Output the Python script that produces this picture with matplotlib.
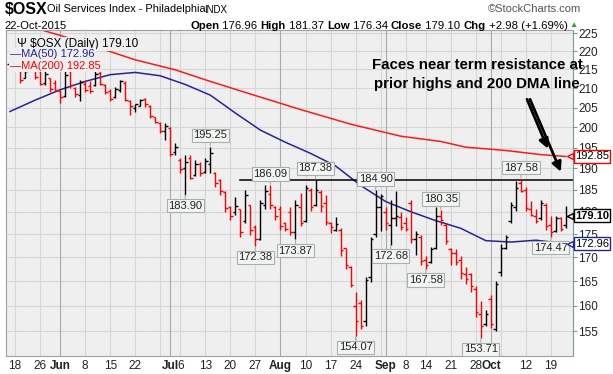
import numpy as np
import pandas as pd
import matplotlib
matplotlib.use('Agg')
import matplotlib.pyplot as plt
from matplotlib.ticker import FixedLocator, NullLocator

plt.rcParams['font.family'] = ['Liberation Sans', 'DejaVu Sans']

# trading days of the chart (weekdays minus market holidays)
holidays = ['2015-05-25', '2015-07-03', '2015-09-07']
dates = pd.bdate_range('2015-05-15', '2015-10-22')
dates = dates[~dates.isin(pd.to_datetime(holidays))]

opens = [216.5, 217.5, 216.0, 212.8, 216.0, 216.5, 214.5, 211.5, 212.6, 211.5,
         209.4, 208.0, 214.5, 210.0, 208.2, 211.2, 210.5, 210.8, 214.0, 210.8,
         209.4, 207.6, 209.5, 211.5, 206.8, 204.8, 205.5, 207.2, 205.5, 202.5,
         201.2, 199.0, 199.8, 194.0, 192.0, 190.0, 192.5, 188.5, 191.0, 189.2,
         191.0, 189.0, 187.2, 184.5, 181.0, 180.0, 180.5, 178.0, 181.5, 176.5,
         174.0, 181.5, 184.0, 181.0, 180.5, 177.5, 180.0, 175.5, 181.0, 178.0,
         185.0, 181.5, 184.5, 182.0, 177.5, 176.0, 176.0, 172.0, 168.0, 160.0,
         160.5, 157.0, 166.0, 175.0, 181.0, 180.0, 177.0, 178.5, 178.8, 177.5,
         182.0, 174.0, 174.5, 169.5, 169.0, 172.0, 179.0, 177.0, 171.8, 171.0,
         169.5, 166.5, 166.5, 163.5, 158.5, 156.5, 161.5, 155.5, 167.0, 172.0,
         178.0, 181.0, 186.5, 185.0, 180.5, 179.0, 178.5, 181.5, 177.0, 175.8,
         178.5, 176.96]
highs = [217.3, 218.4, 216.2, 215.2, 217.2, 217.0, 216.5, 214.9, 212.8, 212.3,
         209.6, 214.9, 214.9, 210.4, 212.3, 212.3, 211.8, 214.5, 214.5, 211.0,
         209.8, 210.4, 212.3, 211.8, 207.0, 206.0, 207.2, 207.5, 205.7, 202.7,
         201.4, 201.1, 200.1, 196.2, 192.6, 193.3, 193.3, 192.1, 191.6, 192.5,
         195.25, 189.2, 187.4, 184.6, 181.3, 183.4, 180.6, 185.0, 181.6, 177.1,
         182.7, 186.0, 186.09, 181.3, 181.3, 177.8, 181.0, 182.7, 184.3, 186.2,
         185.5, 187.38, 185.0, 183.9, 177.7, 178.7, 176.4, 172.1, 168.1, 162.9,
         161.3, 165.8, 174.5, 184.9, 184.0, 181.0, 182.7, 184.6, 180.0, 178.8,
         182.7, 175.6, 174.9, 170.3, 172.3, 181.1, 180.35, 177.5, 172.1, 171.7,
         170.3, 168.0, 166.8, 164.0, 160.9, 159.1, 162.3, 165.0, 172.8, 174.9,
         182.2, 187.0, 187.58, 185.7, 182.4, 180.5, 182.7, 182.0, 179.0, 179.0,
         178.8, 181.37]
lows = [216.0, 216.6, 211.5, 212.6, 215.8, 212.4, 210.8, 210.9, 209.0, 209.2,
        206.2, 207.8, 210.2, 207.8, 206.6, 209.0, 208.8, 210.6, 210.8, 208.6,
        206.7, 207.4, 209.0, 206.7, 203.2, 203.8, 205.3, 205.2, 202.4, 201.2,
        198.7, 196.9, 193.0, 193.3, 189.0, 183.9, 187.4, 188.1, 188.3, 188.8,
        189.0, 185.7, 183.9, 180.0, 178.2, 179.3, 174.3, 177.5, 174.9, 172.38,
        173.8, 180.5, 180.5, 178.2, 176.0, 175.6, 174.9, 173.87, 176.7, 177.7,
        180.2, 181.2, 180.0, 177.1, 175.3, 175.6, 170.3, 167.5, 163.8, 154.07,
        155.4, 156.0, 164.8, 174.3, 175.6, 176.0, 172.68, 176.7, 176.0, 175.6,
        173.2, 170.6, 168.5, 167.58, 168.8, 171.7, 177.1, 172.8, 168.3, 168.5,
        165.4, 164.4, 162.8, 157.8, 153.71, 156.0, 155.7, 155.0, 166.2, 171.7,
        177.5, 180.2, 184.5, 180.2, 179.0, 177.5, 178.2, 176.0, 174.47, 175.5,
        175.8, 176.34]
closes = [217.0, 217.6, 212.2, 214.6, 216.6, 213.0, 211.2, 213.8, 209.8, 209.5,
          207.6, 213.5, 210.8, 208.4, 211.6, 209.6, 209.2, 213.8, 211.2, 209.0,
          207.2, 209.8, 211.8, 207.0, 205.5, 205.8, 207.0, 205.8, 202.8, 201.4,
          199.2, 200.3, 193.5, 195.2, 189.8, 191.5, 187.8, 191.0, 189.0, 191.8,
          193.8, 186.5, 184.8, 180.8, 179.0, 181.2, 175.5, 183.8, 176.0, 174.0,
          182.0, 184.8, 181.5, 179.0, 176.8, 176.2, 175.5, 181.5, 177.5, 185.5,
          181.0, 185.0, 181.2, 177.8, 176.6, 177.2, 171.5, 168.3, 164.3, 157.0,
          156.0, 165.2, 174.0, 181.0, 183.5, 177.5, 178.5, 179.0, 176.5, 176.2,
          174.0, 175.0, 169.2, 168.5, 171.8, 179.0, 178.2, 173.5, 171.0, 169.0,
          166.8, 165.5, 164.0, 158.8, 156.0, 158.5, 156.5, 164.5, 172.0, 174.5,
          181.5, 185.5, 184.8, 180.8, 179.3, 178.0, 182.0, 176.8, 175.5, 178.5,
          176.12, 179.10]

ma50_dates = ['2015-05-15', '2015-05-22', '2015-06-01', '2015-06-08', '2015-06-15',
              '2015-06-22', '2015-06-29', '2015-07-07', '2015-07-14', '2015-07-21',
              '2015-07-28', '2015-08-04', '2015-08-11', '2015-08-18', '2015-08-25',
              '2015-09-01', '2015-09-09', '2015-09-16', '2015-09-23', '2015-09-30',
              '2015-10-07', '2015-10-14', '2015-10-22']
ma50_vals = [204.0, 206.9, 209.6, 211.8, 213.6, 214.2, 213.3, 211.0, 208.2, 203.6,
             199.3, 196.3, 193.6, 190.6, 186.0, 182.3, 180.0, 178.0, 176.3, 173.6,
             173.3, 173.7, 172.96]
ma200_dates = ['2015-05-15', '2015-05-26', '2015-06-04', '2015-06-12', '2015-06-22',
               '2015-07-02', '2015-07-14', '2015-07-24', '2015-08-07', '2015-08-21',
               '2015-09-04', '2015-09-17', '2015-09-24', '2015-10-06', '2015-10-15',
               '2015-10-22']
ma200_vals = [228.5, 226.0, 223.1, 220.3, 217.6, 214.9, 211.8, 208.5, 204.5, 200.8,
              197.8, 196.5, 195.1, 194.3, 193.3, 192.85]

tick_dates = ['2015-05-18', '2015-05-26', '2015-06-01', '2015-06-08', '2015-06-15',
              '2015-06-22', '2015-07-01', '2015-07-06', '2015-07-13', '2015-07-20',
              '2015-07-27', '2015-08-03', '2015-08-10', '2015-08-17', '2015-08-24',
              '2015-09-01', '2015-09-08', '2015-09-14', '2015-09-21', '2015-09-28',
              '2015-10-01', '2015-10-12', '2015-10-19']
tick_labels = ['18', '26', 'Jun', '8', '15', '22', 'Jul', '6', '13', '20', '27', 'Aug',
               '10', '17', '24', 'Sep', '8', '14', '21', '28', 'Oct', '12', '19']
extra_grid_dates = ['2015-06-29', '2015-08-31', '2015-10-05']

marks = [('2015-07-07', 183.90, 'low'), ('2015-07-14', 195.25, 'high'),
         ('2015-07-27', 172.38, 'low'), ('2015-07-30', 186.09, 'high'),
         ('2015-08-06', 173.87, 'low'), ('2015-08-12', 187.38, 'high'),
         ('2015-08-24', 154.07, 'low'), ('2015-08-28', 184.90, 'high'),
         ('2015-09-02', 172.68, 'low'), ('2015-09-14', 167.58, 'low'),
         ('2015-09-17', 180.35, 'high'), ('2015-09-29', 153.71, 'low'),
         ('2015-10-09', 187.58, 'high'), ('2015-10-19', 174.47, 'low')]

resistance = 187.3
resistance_from = '2015-07-22'
yticks = list(range(155, 226, 5))


def pos(d):
    return dates.get_loc(pd.Timestamp(d))


x = np.arange(len(dates))
cols = ['black'] + ['black' if closes[i] >= closes[i - 1] else 'red' for i in range(1, len(closes))]

fig = plt.figure(figsize=(6.13, 3.74), dpi=100)
ax = fig.add_axes([0.0106, 0.048, 0.9241, 0.8722])
ax.set_facecolor('#efefef')
ax.set_yscale('log')
ax.set_xlim(-0.7, 112.4)
ax.set_ylim(150.3, 225.9)

# grid
for p in yticks:
    ax.axhline(p, color='#d6d6d6', lw=0.8, zorder=0)
month_starts = ['2015-06-01', '2015-07-01', '2015-08-03', '2015-09-01', '2015-10-01']
for d in tick_dates + extra_grid_dates:
    ax.axvline(pos(d), color='#aaaaaa' if d in month_starts else '#d6d6d6', lw=0.8, zorder=0)

# OHLC bars
ax.vlines(x, lows, highs, colors=cols, lw=1.0, zorder=3)
ax.hlines(opens, x - 0.5, x, colors=cols, lw=1.0, zorder=3)
ax.hlines(closes, x, x + 0.5, colors=cols, lw=1.0, zorder=3)

# moving averages
ax.plot([pos(d) for d in ma50_dates], ma50_vals, color='#24249a', lw=1.1, zorder=2)
ax.plot([pos(d) for d in ma200_dates], ma200_vals, color='#ff1a1a', lw=1.1, zorder=2)

# resistance line
ax.plot([pos(resistance_from), 112.4], [resistance, resistance], color='black', lw=1.1, zorder=2)

# high / low labels
for d, v, kind in marks:
    off = 8 if kind == 'high' else -8
    ax.annotate(f'{v:.2f}', xy=(pos(d), v), xytext=(0, off), textcoords='offset points',
                ha='center', va='center', fontsize=8, color='#222222', zorder=6,
                bbox=dict(boxstyle='square,pad=0.15', fc='#f3f5f3', ec='#a3b3ab', lw=0.8),
                arrowprops=dict(arrowstyle='-', color='#a3b3ab', lw=0.8, shrinkA=0, shrinkB=0.5))

# axes styling
ax.yaxis.tick_right()
ax.yaxis.set_major_locator(FixedLocator(yticks))
ax.yaxis.set_minor_locator(NullLocator())
ax.set_yticklabels([str(t) for t in yticks])
ax.tick_params(axis='y', length=3, width=0.8, color='#7a9a9a', pad=1, labelsize=8.5, labelcolor='#222222')
ax.set_xticks([pos(d) for d in tick_dates])
ax.set_xticklabels(tick_labels)
ax.tick_params(axis='x', length=0, pad=3, labelsize=8.5, labelcolor='#222222')
for lab in ax.get_xticklabels():
    if lab.get_text().isalpha():
        lab.set_fontweight('bold')
for s in ['left', 'top', 'bottom']:
    ax.spines[s].set_color('#a0a0a0')
    ax.spines[s].set_linewidth(0.8)
ax.spines['right'].set_color('#7a9a9a')
ax.spines['right'].set_linestyle((0, (1, 1)))

# value tags on the right axis
tags = [(ma200_vals[-1], '#ff0000', 'normal'), (closes[-1], 'black', 'bold'), (ma50_vals[-1], '#24249a', 'normal')]
for v, c, w in tags:
    ax.annotate(f'{v:.2f}', xy=(1.0, v), xycoords=('axes fraction', 'data'), xytext=(1.5, 0),
                textcoords='offset points', ha='left', va='center', fontsize=8, fontweight=w,
                color='black', annotation_clip=False, zorder=7,
                bbox=dict(boxstyle='square,pad=0.12', fc='white', ec=c, lw=1.0))
    ax.plot([0.9955], [v], marker='<', ms=5, mfc='white', mec=c, mew=1.0,
            transform=ax.get_yaxis_transform(), clip_on=False, zorder=8)

# legend
ax.text(0.018, 0.975, '\u03a8 $OSX (Daily) 179.10', transform=ax.transAxes, fontsize=8.5,
        va='top', ha='left', color='black', zorder=7,
        bbox=dict(boxstyle='square,pad=0.1', fc='#efefef', ec='none'))
ax.text(0.006, 0.94, '\u2014MA(50) 172.96', transform=ax.transAxes, fontsize=8,
        va='top', ha='left', color='#24249a', zorder=7,
        bbox=dict(boxstyle='square,pad=0.1', fc='#efefef', ec='none'))
ax.text(0.006, 0.905, '\u2014MA(200) 192.85', transform=ax.transAxes, fontsize=8,
        va='top', ha='left', color='#ff0000', zorder=7,
        bbox=dict(boxstyle='square,pad=0.1', fc='#efefef', ec='none'))

# comment and arrows
ax.text(0.831, 0.863, 'Faces near term resistance at\nprior highs and 200 DMA line',
        transform=ax.transAxes, ha='center', va='center', fontsize=10.8, fontweight='bold',
        linespacing=1.45, zorder=7)
ax.annotate('', xy=(107.6, 194.1), xytext=(103.0, 207.8),
            arrowprops=dict(arrowstyle='-|>', color='black', lw=2, mutation_scale=14))
ax.annotate('', xy=(110.2, 188.6), xytext=(103.6, 207.8),
            arrowprops=dict(arrowstyle='-|>', color='black', lw=2, mutation_scale=14))

# header
fig.text(0.008, 0.975, '$OSX', fontsize=11.5, fontweight='bold', va='center', ha='left')
fig.text(0.076, 0.975, 'Oil Services Index - Philadelphia', fontsize=7.9, va='center', ha='left')
fig.text(0.333, 0.973, 'INDX', fontsize=7, va='center', ha='left')
fig.text(0.948, 0.975, '\u00a9StockCharts.com', fontsize=8, va='center', ha='right', color='#555555')
fig.text(0.008, 0.930, '22-Oct-2015', fontsize=8, va='center', ha='left')
hdr = [('Open', True), (' 176.96 ', False), ('High', True), (' 181.37 ', False),
       ('Low', True), (' 176.34 ', False), ('Close', True), (' 179.10 ', False),
       ('Chg', True), (' +2.98 (+1.69%)', False)]
xh = 0.31
r = fig.canvas.get_renderer()
for txt, b in hdr:
    t = fig.text(xh, 0.930, txt, fontsize=8.2, fontweight='bold' if b else 'normal', va='center', ha='left')
    xh += t.get_window_extent(r).width / fig.bbox.width
fig.text(xh + 0.003, 0.932, '\u25b2', fontsize=6, color='#22aa22', va='center', ha='left')

fig.savefig('out.png', dpi=100)
